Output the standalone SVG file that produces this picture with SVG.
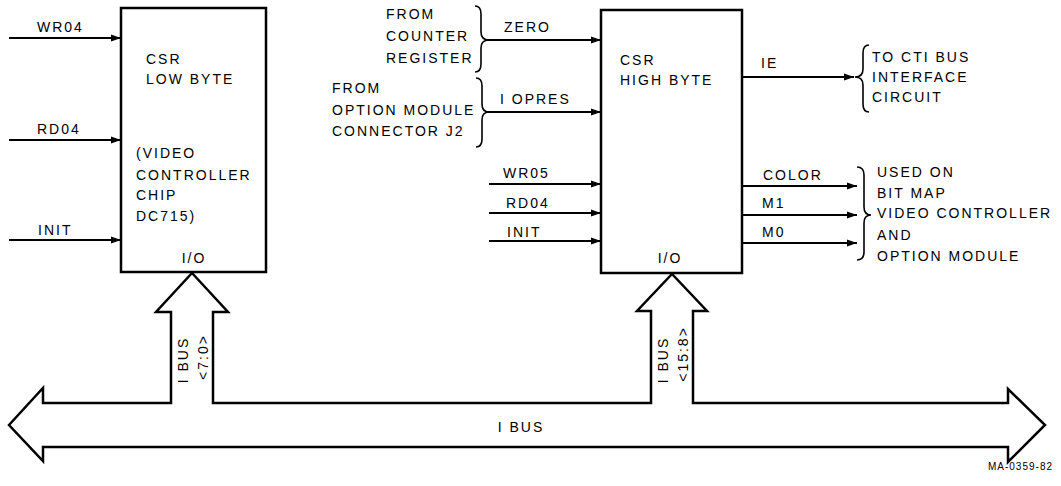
<svg xmlns="http://www.w3.org/2000/svg" width="1061" height="486" viewBox="0 0 1061 486">
<style>
text{font-family:"Liberation Sans",Arial,sans-serif;font-size:14px;letter-spacing:2px;fill:#000}
.box{fill:#fff;stroke:#000;stroke-width:2.5}
.w{fill:none;stroke:#000;stroke-width:2}
.br{fill:none;stroke:#000;stroke-width:1.6}
.bus{fill:#fff;stroke:#000;stroke-width:2.5;stroke-linejoin:miter}
.sm{font-size:10px;letter-spacing:1px}
</style>
<defs>
<marker id="ah" markerUnits="userSpaceOnUse" markerWidth="11" markerHeight="8" refX="10" refY="4" orient="auto">
<path d="M0,0.5 L10,4 L0,7.5 z" fill="#000"/>
</marker>
</defs>
<rect width="1061" height="486" fill="#fff"/>

<g id="ibus">
<polygon class="bus" points="9,425 43,388 43,403 171,403 171,312 156,312 192,273 228,312 213,312 213,403 651,403 651,311 637,311 672,274 707,311 693,311 693,403 1008,403 1008,389 1045,425 1008,462 1008,447 43,447 43,461"/>
<text x="521" y="432" text-anchor="middle">I BUS</text>
<text transform="translate(188,360) rotate(-90)" text-anchor="middle">I BUS</text>
<text transform="translate(208,357) rotate(-90)" text-anchor="middle">&lt;7:0&gt;</text>
<text transform="translate(668,360) rotate(-90)" text-anchor="middle">I BUS</text>
<text transform="translate(688,354) rotate(-90)" text-anchor="middle">&lt;15:8&gt;</text>
</g>

<g id="csr-low">
<rect class="box" x="121" y="8" width="145" height="264"/>
<text x="146" y="64">CSR</text>
<text x="146" y="84">LOW BYTE</text>
<text x="136" y="158">(VIDEO</text>
<text x="136" y="180">CONTROLLER</text>
<text x="136" y="200">CHIP</text>
<text x="136" y="221">DC715)</text>
<text x="194" y="263" text-anchor="middle">I/O</text>
</g>

<g id="csr-high">
<rect class="box" x="601" y="10" width="141" height="263"/>
<text x="620" y="65">CSR</text>
<text x="620" y="85">HIGH BYTE</text>
<text x="670" y="263" text-anchor="middle">I/O</text>
</g>

<g id="from-counter">
<text x="386" y="19">FROM</text>
<text x="386" y="41">COUNTER</text>
<text x="386" y="63">REGISTER</text>
</g>
<g id="from-option">
<text x="332" y="93">FROM</text>
<text x="332" y="115">OPTION MODULE</text>
<text x="332" y="136">CONNECTOR J2</text>
</g>
<g id="to-cti">
<text x="872" y="62">TO CTI BUS</text>
<text x="872" y="82">INTERFACE</text>
<text x="872" y="102">CIRCUIT</text>
</g>
<g id="used-on">
<text x="877" y="177">USED ON</text>
<text x="877" y="198">BIT MAP</text>
<text x="877" y="218">VIDEO CONTROLLER</text>
<text x="877" y="240">AND</text>
<text x="877" y="261">OPTION MODULE</text>
</g>

<g id="braces">
<path class="br" d="M475,6 Q481,6 481,14 L481,32 Q481,40 489,40 Q481,40 481,48 L481,64 Q481,72 475,72"/>
<path class="br" d="M476,78 Q482,78 482,86 L482,104 Q482,112 489,112 Q482,112 482,120 L482,139 Q482,147 476,147"/>
<path class="br" d="M869,45 Q863,45 863,53 L863,69 Q863,77 855,77 Q863,77 863,85 L863,104 Q863,112 869,112"/>
<path class="br" d="M857,167 Q864,167 864,175 L864,207 Q864,215 871,215 Q864,215 864,223 L864,252 Q864,260 857,260"/>
</g>

<g id="connectors">
<line class="w" x1="9" y1="38" x2="121" y2="38" marker-end="url(#ah)"/>
<line class="w" x1="9" y1="140" x2="121" y2="140" marker-end="url(#ah)"/>
<line class="w" x1="9" y1="240" x2="121" y2="240" marker-end="url(#ah)"/>
<line class="w" x1="488" y1="40" x2="601" y2="40" marker-end="url(#ah)"/>
<line class="w" x1="488" y1="112" x2="601" y2="112" marker-end="url(#ah)"/>
<line class="w" x1="489" y1="184" x2="601" y2="184" marker-end="url(#ah)"/>
<line class="w" x1="489" y1="213" x2="601" y2="213" marker-end="url(#ah)"/>
<line class="w" x1="489" y1="241" x2="601" y2="241" marker-end="url(#ah)"/>
<line class="w" x1="742" y1="77" x2="854" y2="77" marker-end="url(#ah)"/>
<line class="w" x1="742" y1="186" x2="857" y2="186" marker-end="url(#ah)"/>
<line class="w" x1="742" y1="215" x2="857" y2="215" marker-end="url(#ah)"/>
<line class="w" x1="742" y1="243" x2="857" y2="243" marker-end="url(#ah)"/>
</g>

<g id="labels">
<text x="37" y="32">WR04</text>
<text x="37" y="134">RD04</text>
<text x="38" y="235">INIT</text>
<text x="504" y="32">ZERO</text>
<text x="500" y="104">I OPRES</text>
<text x="503" y="178">WR05</text>
<text x="506" y="208">RD04</text>
<text x="507" y="237">INIT</text>
<text x="761" y="68">IE</text>
<text x="763" y="180">COLOR</text>
<text x="762" y="208">M1</text>
<text x="762" y="237">M0</text>
<text class="sm" x="1053" y="470" text-anchor="end">MA-0359-82</text>
</g>
</svg>
